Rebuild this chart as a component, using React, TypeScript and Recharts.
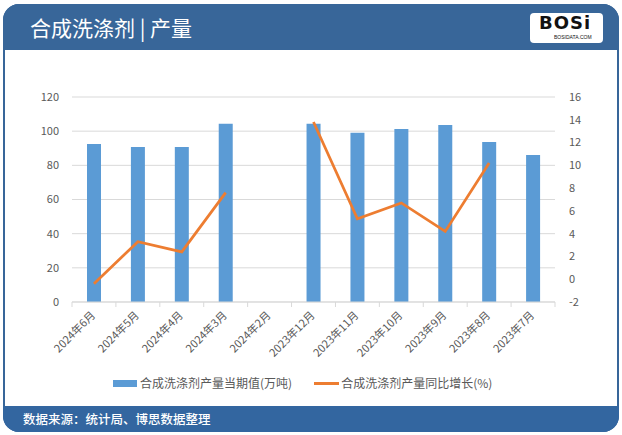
import { Bar, CartesianGrid, ComposedChart, Line, XAxis, YAxis } from "recharts";

const months = [
	"2024年6月",
	"2024年5月",
	"2024年4月",
	"2024年3月",
	"2024年2月",
	"2023年12月",
	"2023年11月",
	"2023年10月",
	"2023年9月",
	"2023年8月",
	"2023年7月",
];
const output = [92.5, 90.7, 90.7, 104.4, null, 104.4, 99.1, 101.3, 103.6, 93.7, 86.1];
const growth = [-0.4, 3.3, 2.4, 7.6, null, 13.8, 5.3, 6.7, 4.2, 10.2, null];
const leftTicks = [0, 20, 40, 60, 80, 100, 120];
const rightTicks = [-2, 0, 2, 4, 6, 8, 10, 12, 14, 16];

const barName = "合成洗涤剂产量当期值(万吨)";
const lineName = "合成洗涤剂产量同比增长(%)";

const data = months.map((m, i) => ({ month: m, output: output[i], growth: growth[i] }));

const BLUE = "#5B9BD5";
const ORANGE = "#ED7D31";
const FRAME = "#386699";
const FONT = '"Noto Sans CJK SC", "Noto Sans", sans-serif';

function MonthTick(props: any) {
	const { x, y, payload, index } = props;
	const half = payload.offset || 0;
	return (
		<g>
			<line x1={x - half} x2={x - half} y1={y - 8} y2={y - 3} stroke="#D9D9D9" />
			{index === months.length - 1 && (
				<line x1={x + half} x2={x + half} y1={y - 8} y2={y - 3} stroke="#D9D9D9" />
			)}
			<text
				x={0}
				y={0}
				transform={`translate(${x + 2},${y + 6}) rotate(-45)`}
				textAnchor="end"
				fontSize={11}
				fill="#595959"
				fontFamily={FONT}
			>
				{payload.value}
			</text>
		</g>
	);
}

export default function App() {
	return (
		<div
			style={{
				position: "fixed",
				left: 0,
				top: 0,
				width: 622,
				height: 435,
				background: "#fff",
				fontFamily: FONT,
				overflow: "hidden",
			}}
		>
			<div
				style={{
					position: "absolute",
					left: 3,
					top: 4,
					width: 612,
					height: 424,
					border: `2px solid ${FRAME}`,
					borderRadius: 16,
					background: "#fff",
				}}
			/>
			<div
				style={{
					position: "absolute",
					left: 3,
					top: 4,
					width: 616,
					height: 46,
					background: FRAME,
					borderRadius: "16px 16px 0 0",
				}}
			>
				<div
					style={{
						position: "absolute",
						left: 27,
						top: 9,
						color: "#fff",
						fontSize: 21,
						lineHeight: "28px",
					}}
				>
					合成洗涤剂 | 产量
				</div>
				<div
					style={{
						position: "absolute",
						left: 527,
						top: 9,
						width: 73,
						height: 30,
						background: "#fff",
						borderRadius: 4,
					}}
				>
					<div
						style={{
							position: "absolute",
							left: 9,
							top: 0,
							fontFamily: "DejaVu Sans",
							fontWeight: 900,
							fontSize: 18,
							lineHeight: "20px",
							color: "#111",
							letterSpacing: 1,
						}}
					>
						BOSi
					</div>
					<div
						style={{
							position: "absolute",
							left: 24,
							top: 21,
							fontFamily: "Liberation Sans",
							fontSize: 5,
							lineHeight: "6px",
							color: "#111",
						}}
					>
						BOSIDATA.COM
					</div>
				</div>
			</div>
			<div
				style={{
					position: "absolute",
					left: 3,
					top: 406,
					width: 616,
					height: 26,
					background: "#3366A0",
					borderRadius: "0 0 16px 16px",
				}}
			>
				<div
					style={{
						position: "absolute",
						left: 20,
						top: 4,
						color: "#fff",
						fontSize: 12.5,
						fontWeight: 500,
						lineHeight: "18px",
					}}
				>
					数据来源：统计局、博思数据整理
				</div>
			</div>

			<div style={{ position: "absolute", left: 0, top: 0 }}>
				<ComposedChart
					width={622}
					height={435}
					data={data}
					margin={{ top: 97, right: 12, bottom: 73, left: 12 }}
				>
					<CartesianGrid yAxisId="left" vertical={false} stroke="#D9D9D9" />
					<XAxis
						dataKey="month"
						height={60}
						interval={0}
						tickLine={false}
						axisLine={{ stroke: "#D9D9D9" }}
						tick={<MonthTick />}
					/>
					<YAxis
						yAxisId="left"
						width={60}
						domain={[0, 120]}
						ticks={leftTicks}
						axisLine={false}
						tickLine={false}
						tickMargin={7}
						tick={{ fontSize: 11, fill: "#595959", fontFamily: FONT }}
					/>
					<YAxis
						yAxisId="right"
						orientation="right"
						width={55}
						domain={[-2, 16]}
						ticks={rightTicks}
						axisLine={false}
						tickLine={false}
						tickMargin={8}
						tick={{ fontSize: 11, fill: "#595959", fontFamily: FONT }}
					/>
					<Bar
						yAxisId="left"
						dataKey="output"
						name={barName}
						fill={BLUE}
						barSize={14}
						isAnimationActive={false}
					/>
					<Line
						yAxisId="right"
						dataKey="growth"
						name={lineName}
						stroke={ORANGE}
						strokeWidth={2.75}
						dot={false}
						activeDot={false}
						type="linear"
						isAnimationActive={false}
					/>
				</ComposedChart>
			</div>

			<div
				style={{
					position: "absolute",
					left: 113,
					top: 375,
					display: "flex",
					alignItems: "center",
					fontSize: 12,
					color: "#595959",
					lineHeight: "16px",
				}}
			>
				<span style={{ display: "inline-block", width: 24, height: 7, background: BLUE, marginRight: 3 }} />
				<span>{barName}</span>
				<span
					style={{
						display: "inline-block",
						width: 25,
						height: 3,
						background: ORANGE,
						marginLeft: 22,
						marginRight: 2,
					}}
				/>
				<span>{lineName}</span>
			</div>
		</div>
	);
}
